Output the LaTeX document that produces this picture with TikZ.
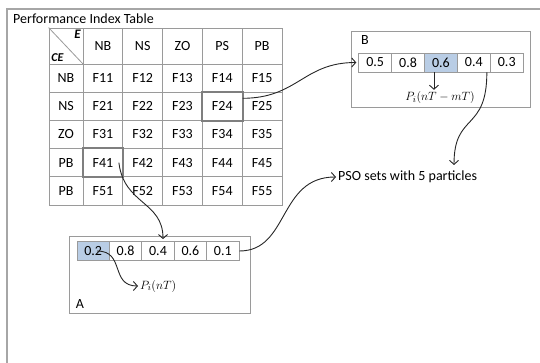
\documentclass[tikz,border=0pt]{standalone}
\usepackage{fontspec}
\setmainfont{Carlito}
\usetikzlibrary{arrows.meta}
\definecolor{gridc}{HTML}{9A9A9A}
\definecolor{hlc}{HTML}{7F7F7F}
\definecolor{bluef}{HTML}{B9CDE5}
\definecolor{framec}{HTML}{A6A6A6}
\begin{document}
\begin{tikzpicture}[x=1pt,y=-1pt,
  font=\fontsize{14}{16}\selectfont,
  cell/.style={draw=gridc, line width=0.8pt, minimum width=39.8pt, minimum height=28.2pt, inner sep=0pt},
  valcell/.style={draw=gridc, fill=white, line width=0.8pt, minimum width=32.9pt, minimum height=19pt, inner sep=0pt},
  bluecell/.style={valcell, fill=bluef},
  box/.style={draw=gridc, line width=0.9pt, inner sep=0pt},
  hl/.style={draw=hlc, line width=2pt},
  mathlbl/.style={inner sep=0pt, font=\fontsize{12.5}{14}\selectfont},
  conn/.style={draw=black!85, line width=0.9pt, shorten >=2pt, -{Straight Barb[length=4pt,width=9pt]}}]
\useasboundingbox (0,0) rectangle (540,363);
% outer frame
\draw[framec, line width=1.2pt] (7,363) -- (7,9) -- (540,9);
\node[anchor=west, inner sep=0pt] (title) at (13,19) {Performance Index Table};
% table
\node[cell, minimum width=34pt, minimum height=36pt] (corner) at (66,46) {};
\draw[gridc, line width=0.8pt] (corner.north west) -- (corner.south east);
\node[anchor=north east, inner sep=2.5pt, font=\fontsize{13}{14}\selectfont\bfseries\itshape] (le) at (corner.north east) {E};
\node[anchor=south west, inner sep=2.5pt, font=\fontsize{12}{14}\selectfont\bfseries\itshape] (lce) at (corner.south west) {CE};
\foreach \j/\h in {1/NB,2/NS,3/ZO,4/PS,5/PB}
  \node[cell, minimum height=36pt] (h\j) at ({83+39.8*(\j-0.5)},46) {\h};
\foreach \i/\r in {1/NB,2/NS,3/ZO,4/PB,5/PB}
  \node[cell, minimum width=34pt] (r\i) at (66,{64+28.2*(\i-0.5)}) {\r};
\foreach \i in {1,...,5}
  \foreach \j in {1,...,5}
    \node[cell] (f\i\j) at ({83+39.8*(\j-0.5)},{64+28.2*(\i-0.5)}) {F\i\j};
\draw[hl] (f24.north west) rectangle (f24.south east);
\draw[hl] (f41.north west) rectangle (f41.south east);
% box B
\node[box, minimum width=179pt, minimum height=76pt] (boxB) at (440.5,69) {};
\node[inner sep=0pt] (lb) at (365,40) {B};
\foreach \k/\v in {1/0.5,2/0.8,4/0.4,5/0.3}
  \node[valcell] (b\k) at ({358.7+32.9*(\k-0.5)},62.5) {\v};
\node[bluecell] (b3) at ({358.7+32.9*2.5},62.5) {0.6};
\node[mathlbl] (pb) at (440,98) {$P_i(nT-mT)$};
% box A
\node[box, minimum width=181pt, minimum height=77pt] (boxA) at (159.5,274.5) {};
\node[inner sep=0pt] (la) at (80,304) {A};
\node[bluecell, minimum width=32.4pt] (a1) at ({77+32.4*0.5},251) {0.2};
\foreach \k/\v in {2/0.8,3/0.4,4/0.6,5/0.1}
  \node[valcell, minimum width=32.4pt] (a\k) at ({77+32.4*(\k-0.5)},251) {\v};
\node[mathlbl, anchor=west] (pa) at (140,286) {$P_i(nT)$};
% PSO
\node[anchor=west, inner sep=0pt] (pso) at (338,177) {PSO sets with 5 particles};
\coordinate (psoin) at (454,167);
% connectors
\draw[conn] ([yshift=8pt]f24.east) .. controls +(55,0) and +(-55,0) .. (b1.west);
\draw[conn] ([xshift=16pt]f41.center) .. controls +(5,42) and +(0,-40) .. ([xshift=5pt]a3.north);
\draw[conn] (a5.east) .. controls +(50,0) and +(-60,0) .. (pso.west);
\draw[conn] ([xshift=13pt]b4.south) .. controls +(0,60) and +(0,-55) .. (psoin);
\draw[conn] ([xshift=4pt]a1.center) .. controls +(28,0) and +(-30,0) .. (pa.west);
\draw[conn] ([xshift=-7pt]b3.south) -- ([xshift=-7pt]b3.south |- pb.north);
\end{tikzpicture}
\end{document}
